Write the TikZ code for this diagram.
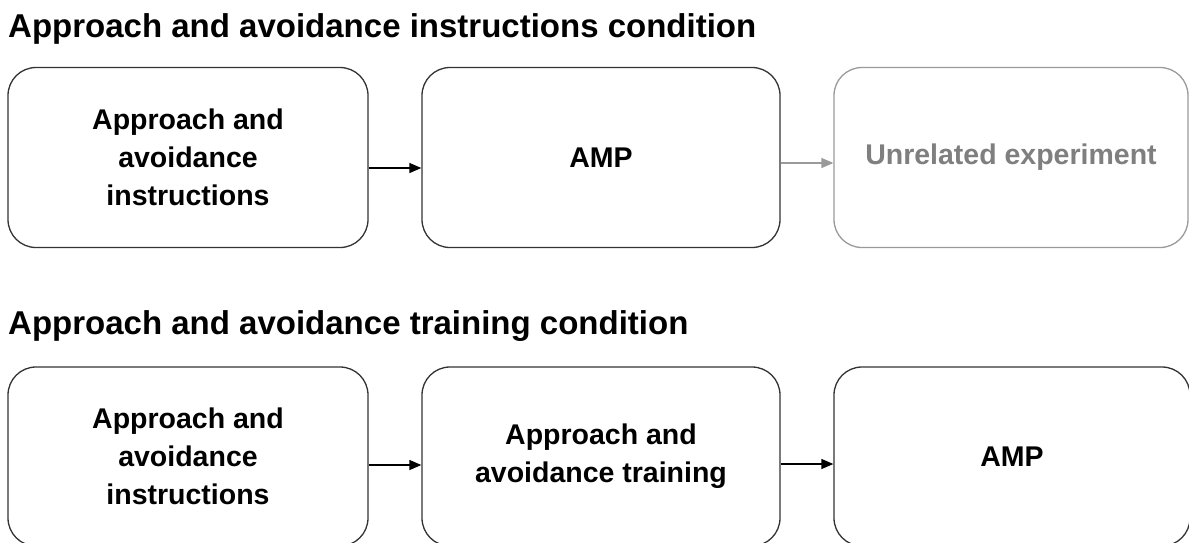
\documentclass[tikz,border=0pt]{standalone}
\usepackage{fontspec}
\setmainfont{Liberation Sans}
\usetikzlibrary{arrows.meta}
\definecolor{edge}{HTML}{333333}
\definecolor{fade}{HTML}{9A9A9A}
\definecolor{fadetext}{HTML}{7F7F7F}
\begin{document}
\begin{tikzpicture}[x=1pt,y=-1pt,
  box/.style={draw=edge, line width=1.3pt, rounded corners=28pt, align=center,
    font=\fontsize{28.5}{38}\selectfont\bfseries, inner sep=0pt},
  fadebox/.style={box, draw=fade, text=fadetext},
  title/.style={anchor=base west, inner sep=0pt, font=\fontsize{33}{40}\selectfont\bfseries},
  arr/.style={draw=black, line width=1.3pt, -{Triangle[length=12pt,width=10pt]}},
  fadearr/.style={draw=fade, line width=1.3pt, -{Triangle[length=12pt,width=10pt]}}]
\useasboundingbox (0,0) rectangle (1189,542);
\clip (0,0) rectangle (1189,542);
% titles
\node[title] (t1) at (8,37) {Approach and avoidance instructions condition};
\node[title] (t2) at (8,334) {Approach and avoidance training condition};
% top row
\node[box, minimum width=360pt, minimum height=180pt] (a1) at (188,157.5)
  {Approach and\\avoidance\\instructions};
\node[box, minimum width=358pt, minimum height=180pt] (a2) at (601,157.5) {AMP};
\node[fadebox, minimum width=354pt, minimum height=180pt] (a3) at (1011,157.5)
  {Unrelated experiment};
% bottom row
\node[box, minimum width=360pt, minimum height=179pt] (b1) at (188,456.5)
  {Approach and\\avoidance\\instructions};
\node[box, minimum width=358pt, minimum height=179pt] (b2) at (601,456.5)
  {Approach and\\avoidance training};
\node[box, minimum width=356pt, minimum height=179pt] (b3) at (1012,456.5) {AMP};
% connectors
\draw[arr] (a1.east |- 0,168) -- (a2.west |- 0,168);
\draw[fadearr] (a2.east |- 0,163) -- (a3.west |- 0,163);
\draw[arr] (b1.east |- 0,465) -- (b2.west |- 0,465);
\draw[arr] (b2.east |- 0,464) -- (b3.west |- 0,464);
\end{tikzpicture}
\end{document}
